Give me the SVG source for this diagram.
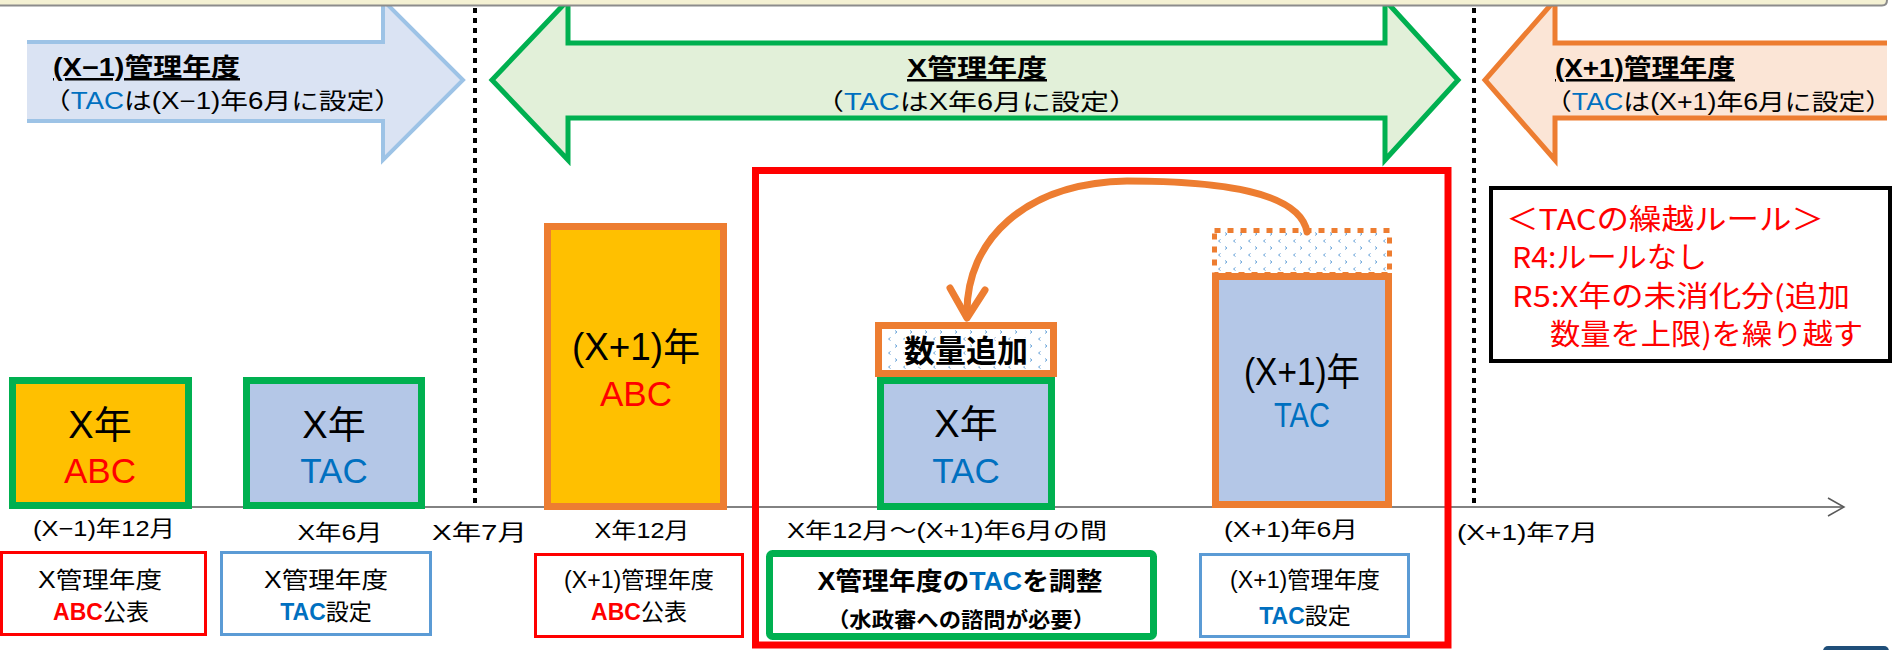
<svg xmlns="http://www.w3.org/2000/svg" width="1893" height="650" viewBox="0 0 1893 650">
<style>
text{font-family:"Liberation Sans","Noto Sans CJK JP",sans-serif;fill:#000}
.jp{font-family:"Noto Sans CJK JP","Liberation Sans",sans-serif}
.hd{font-size:25px;font-weight:bold;text-decoration:underline}
.sub{font-size:23px}
.blue{fill:#0070c0}
.red{fill:#ff0000}
.big{font-size:38px}
.abc{font-size:35px}
.lbl{font-size:22px}
.bx{font-size:23px}
.rule{font-size:29px;fill:#ff0000}
.dash{stroke:#000;stroke-width:4;stroke-dasharray:5 5;fill:none}
.gbox{stroke:#00b050;stroke-width:7}
.obox{stroke:#ed7d31;stroke-width:7}
.thin-r{fill:#fff;stroke:#ff0000;stroke-width:3}
.thin-b{fill:#fff;stroke:#5b9bd5;stroke-width:3}
</style>
<defs>
<pattern id="conf" width="15" height="14" patternUnits="userSpaceOnUse">
<rect width="15" height="14" fill="#fff"/>
<path d="M5.5,1.5 L3.5,3 L5.5,4.5 M10,8.5 L12,10 L10,11.5" stroke="#5b9bd5" stroke-width="0.9" fill="none"/>
</pattern>
</defs>
<rect width="1893" height="650" fill="#fff"/>

<g id="arrow-prev">
<path d="M27,42 H383 V0 L463,80 L383,160 V121 H27" fill="#dae3f3" stroke="#9dc3e6" stroke-width="4"/>
<text class="hd" x="53" y="76" textLength="187" lengthAdjust="spacingAndGlyphs">(X−1)管理年度</text>
<text class="sub" x="43" y="109" textLength="359" lengthAdjust="spacingAndGlyphs">（<tspan class="blue">TAC</tspan>は(X−1)年6月に設定）</text>
</g>
<g id="arrow-cur">
<path d="M568,43 H1385 V0 L1458,80 L1385,160 V118 H568 V160 L492,80 L568,0 Z" fill="#e2f0d9" stroke="#00b050" stroke-width="5"/>
<text class="hd" x="977" y="77" text-anchor="middle" textLength="140" lengthAdjust="spacingAndGlyphs">X管理年度</text>
<text class="sub" x="815" y="110" textLength="323" lengthAdjust="spacingAndGlyphs">（<tspan class="blue">TAC</tspan>はX年6月に設定）</text>
</g>
<g id="arrow-next">
<path d="M1887,43 H1555 V0 L1485,80 L1555,160 V118 H1887" fill="#fbe5d6" stroke="#ed7d31" stroke-width="5"/>
<text class="hd" x="1555" y="77" textLength="180" lengthAdjust="spacingAndGlyphs">(X+1)管理年度</text>
<text class="sub" x="1545" y="110" textLength="347" lengthAdjust="spacingAndGlyphs">（<tspan class="blue">TAC</tspan>は(X+1)年6月に設定）</text>
</g>

<g id="frame">
<rect x="0" y="0" width="1886" height="5" fill="#f4f1d3"/>
<path d="M0,5.5 H1882 Q1887,5.5 1887,0" fill="none" stroke="#8c8c8c" stroke-width="2"/>
</g>

<g id="dividers">
<line class="dash" x1="475" y1="8" x2="475" y2="505"/>
<line class="dash" x1="1474" y1="8" x2="1474" y2="505"/>
</g>

<g id="axis">
<line x1="10" y1="507" x2="1844" y2="507" stroke="#595959" stroke-width="1.5"/>
<polyline points="1828,498 1844,507 1828,516" fill="none" stroke="#595959" stroke-width="1.5"/>
</g>

<g id="red-frame">
<rect x="755.5" y="170.5" width="692.5" height="474.5" fill="none" stroke="#ff0000" stroke-width="7"/>
</g>

<g id="box-x-abc">
<rect class="gbox" x="12.5" y="380.5" width="176" height="125" fill="#ffc000"/>
<text class="big" x="100" y="438" text-anchor="middle">X年</text>
<text class="abc red" x="100" y="483" text-anchor="middle">ABC</text>
</g>
<g id="box-x-tac">
<rect class="gbox" x="246.5" y="380.5" width="175" height="125" fill="#b4c7e7"/>
<text class="big" x="334" y="438" text-anchor="middle">X年</text>
<text class="abc blue" x="334" y="483" text-anchor="middle">TAC</text>
</g>
<g id="box-x1-abc">
<rect class="obox" x="547.5" y="226.5" width="176" height="280" fill="#ffc000"/>
<text class="big" x="636" y="360" text-anchor="middle" font-size="40" textLength="128" lengthAdjust="spacingAndGlyphs">(X+1)年</text>
<text class="abc red" x="636" y="406" text-anchor="middle">ABC</text>
</g>
<g id="box-add">
<rect class="obox" x="878.5" y="325.5" width="175" height="48" fill="url(#conf)"/>
<text x="966" y="362" text-anchor="middle" class="jp" font-size="31" font-weight="bold" stroke="#fff" stroke-width="3" paint-order="stroke" textLength="124" lengthAdjust="spacingAndGlyphs">数量追加</text>
</g>
<g id="box-x-tac-adj">
<rect class="gbox" x="880.5" y="380.5" width="171" height="126" fill="#b4c7e7"/>
<text class="big" x="966" y="437" text-anchor="middle">X年</text>
<text class="abc blue" x="966" y="483" text-anchor="middle">TAC</text>
</g>
<g id="box-carry">
<rect x="1214.5" y="230.5" width="175" height="44" fill="url(#conf)" stroke="#ed7d31" stroke-width="5" stroke-dasharray="6 7"/>
</g>
<g id="box-x1-tac">
<rect class="obox" x="1215.5" y="276.5" width="173" height="228" fill="#b4c7e7"/>
<text class="big" x="1302" y="385" text-anchor="middle" textLength="116" lengthAdjust="spacingAndGlyphs">(X+1)年</text>
<text class="abc blue" x="1302" y="427" text-anchor="middle" textLength="56" lengthAdjust="spacingAndGlyphs">TAC</text>
</g>

<g id="connectors">
<path d="M1307,232 C1300,192 1220,181 1127,181 C1025,183 966,240 967,314" fill="none" stroke="#ed7d31" stroke-width="7" stroke-linecap="round"/>
<polyline points="950,288 967,318 985,290" fill="none" stroke="#ed7d31" stroke-width="7" stroke-linecap="round" stroke-linejoin="round"/>
</g>

<g id="axis-labels">
<text class="lbl" x="104" y="536" text-anchor="middle" textLength="142" lengthAdjust="spacingAndGlyphs">(X−1)年12月</text>
<text class="lbl" x="340" y="540" text-anchor="middle" textLength="85" lengthAdjust="spacingAndGlyphs">X年6月</text>
<text class="lbl" x="432" y="540" textLength="95" lengthAdjust="spacingAndGlyphs">X年7月</text>
<text class="lbl" x="642" y="538" text-anchor="middle" textLength="95" lengthAdjust="spacingAndGlyphs">X年12月</text>
<text class="lbl" x="787" y="538" textLength="320" lengthAdjust="spacingAndGlyphs">X年12月～(X+1)年6月の間</text>
<text class="lbl" x="1291" y="537" text-anchor="middle" textLength="134" lengthAdjust="spacingAndGlyphs">(X+1)年6月</text>
<text class="lbl" x="1457" y="540" textLength="141" lengthAdjust="spacingAndGlyphs">(X+1)年7月</text>
</g>

<g id="note-abc-x">
<rect class="thin-r" x="1.5" y="552.5" width="204" height="82"/>
<text class="bx" x="100" y="588" text-anchor="middle" textLength="124" lengthAdjust="spacingAndGlyphs">X管理年度</text>
<text class="bx" x="101" y="620" text-anchor="middle"><tspan class="red" font-weight="bold">ABC</tspan>公表</text>
</g>
<g id="note-tac-x">
<rect class="thin-b" x="221.5" y="552.5" width="209" height="82"/>
<text class="bx" x="326" y="588" text-anchor="middle" textLength="124" lengthAdjust="spacingAndGlyphs">X管理年度</text>
<text class="bx" x="326" y="620" text-anchor="middle"><tspan class="blue" font-weight="bold">TAC</tspan>設定</text>
</g>
<g id="note-abc-x1">
<rect class="thin-r" x="535.5" y="554.5" width="207" height="82"/>
<text class="bx" x="639" y="588" text-anchor="middle" textLength="150" lengthAdjust="spacingAndGlyphs">(X+1)管理年度</text>
<text class="bx" x="639" y="620" text-anchor="middle"><tspan class="red" font-weight="bold">ABC</tspan>公表</text>
</g>
<g id="note-adjust">
<rect x="769.5" y="553.5" width="384" height="83" rx="3" fill="#fff" stroke="#00b050" stroke-width="7"/>
<text x="960" y="590" text-anchor="middle" font-size="25" font-weight="bold" textLength="285" lengthAdjust="spacingAndGlyphs">X管理年度の<tspan class="blue">TAC</tspan>を調整</text>
<text x="961" y="627" text-anchor="middle" class="jp" font-size="21" font-weight="bold" textLength="268" lengthAdjust="spacingAndGlyphs">（水政審への諮問が必要）</text>
</g>
<g id="note-tac-x1">
<rect class="thin-b" x="1200.5" y="554.5" width="208" height="82"/>
<text class="bx" x="1305" y="588" text-anchor="middle" textLength="150" lengthAdjust="spacingAndGlyphs">(X+1)管理年度</text>
<text class="bx" x="1305" y="624" text-anchor="middle"><tspan class="blue" font-weight="bold">TAC</tspan>設定</text>
</g>

<g id="rules">
<rect x="1491" y="188" width="399" height="173" fill="#fff" stroke="#000" stroke-width="4"/>
<text class="rule jp" x="1506" y="230" textLength="318" lengthAdjust="spacingAndGlyphs">＜TACの繰越ルール＞</text>
<text class="rule jp" x="1512" y="268" textLength="195" lengthAdjust="spacingAndGlyphs">R4:ルールなし</text>
<text class="rule jp" x="1512" y="307" textLength="338" lengthAdjust="spacingAndGlyphs">R5:X年の未消化分(追加</text>
<text class="rule jp" x="1550" y="345" textLength="313" lengthAdjust="spacingAndGlyphs">数量を上限)を繰り越す</text>
</g>

<g id="corner">
<rect x="1823" y="646" width="66" height="10" rx="5" fill="#1f4e79"/>
</g>
</svg>
